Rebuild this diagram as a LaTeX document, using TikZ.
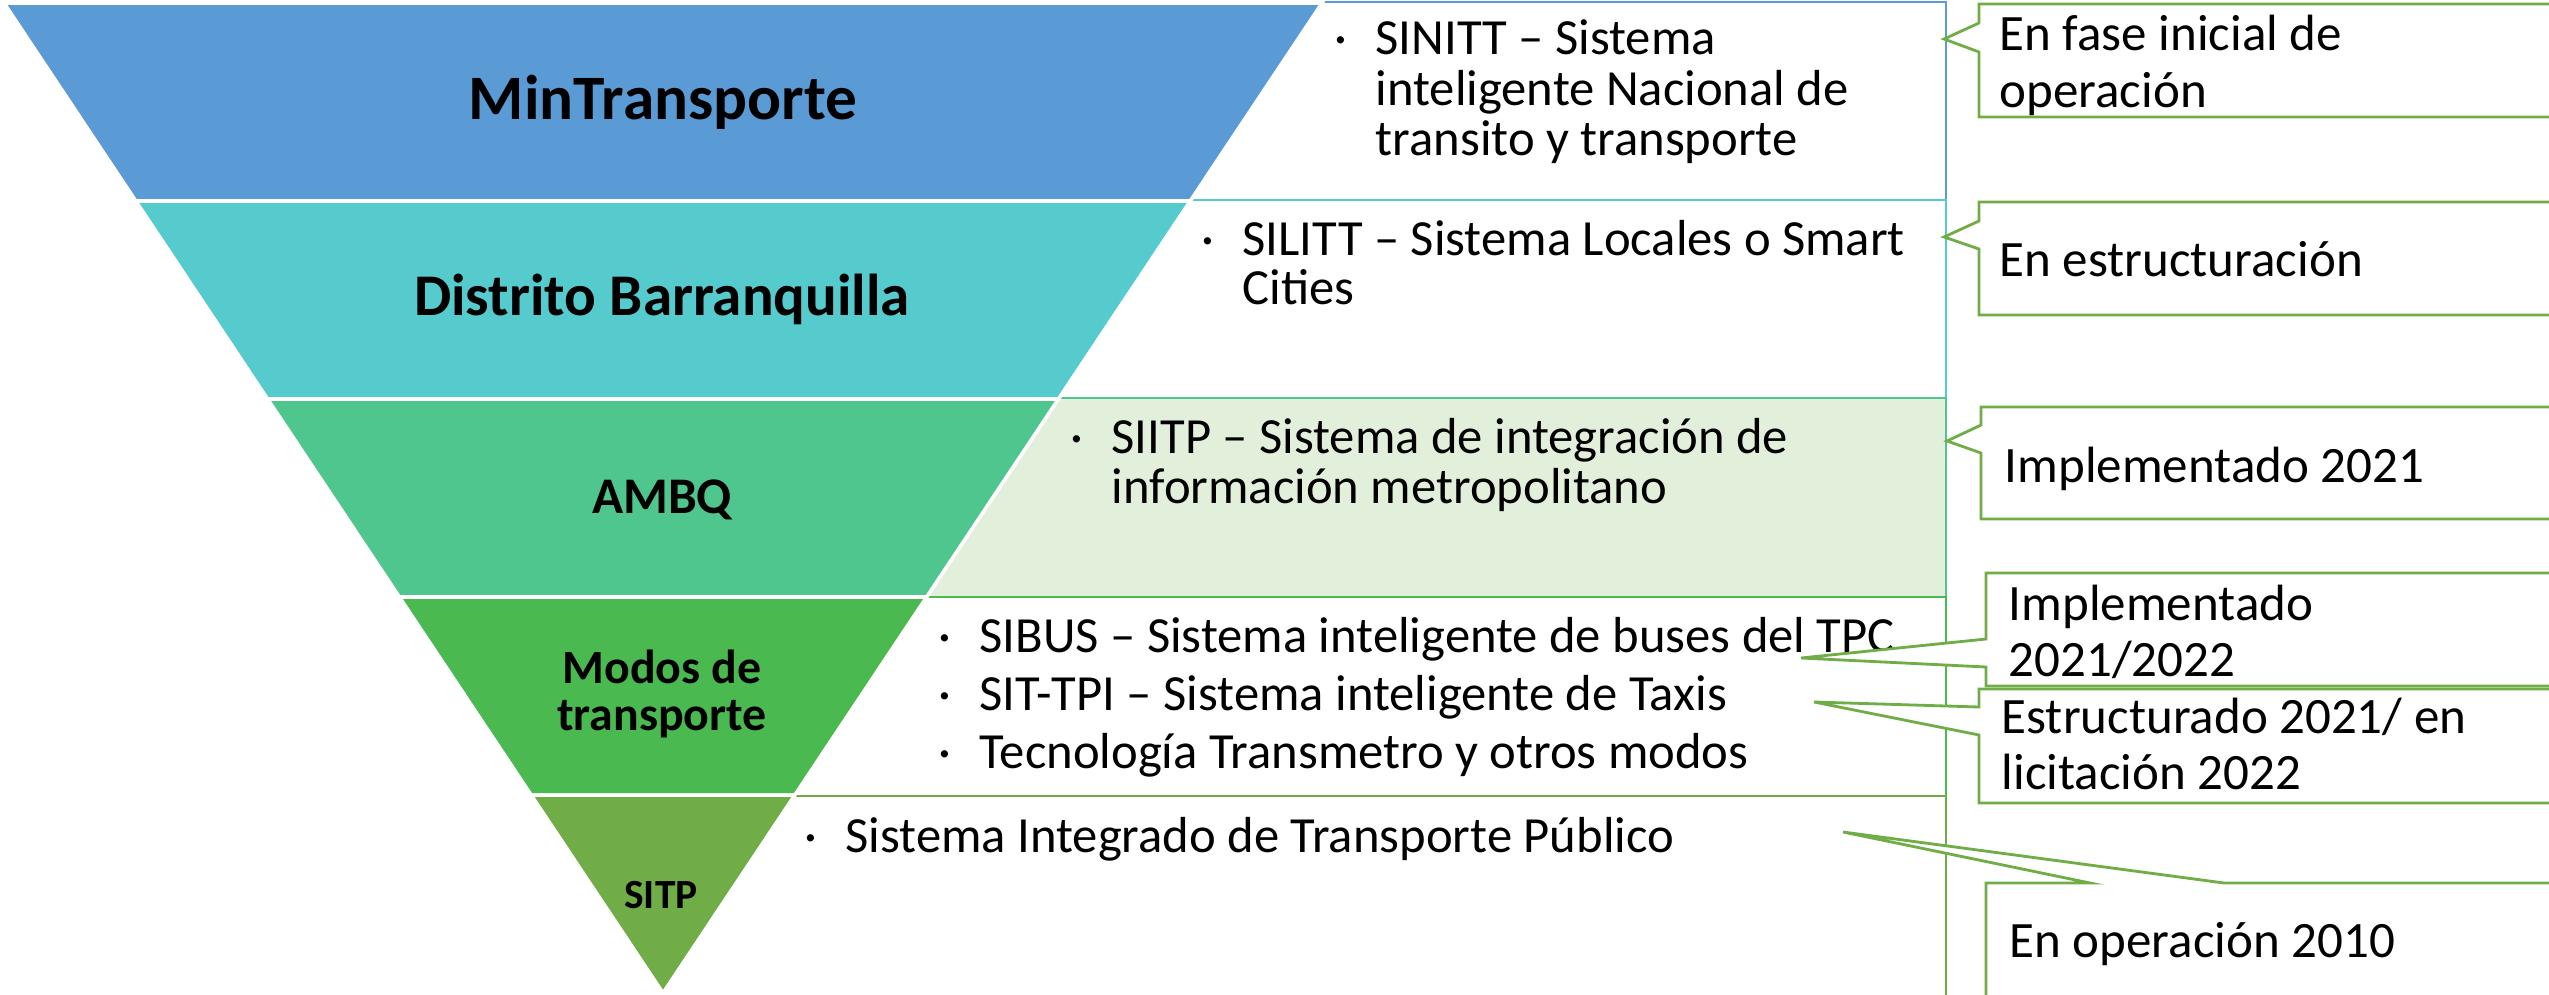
\documentclass[tikz,border=0pt]{standalone}
\usepackage{fontspec}
\setmainfont{Carlito}
\definecolor{cA}{HTML}{5B9BD5}
\definecolor{cB}{HTML}{55CBCD}
\definecolor{cC}{HTML}{4FC68E}
\definecolor{cD}{HTML}{4AB950}
\definecolor{cE}{HTML}{70AD47}
\definecolor{lightg}{HTML}{E2EFDA}
\tikzset{
  boxline/.style={line width=0.8pt, fill=white},
  band/.style={draw=white, line width=1pt, line join=miter},
  callout/.style={draw=cE, fill=white, line width=0.8pt, line join=miter},
  title/.style={font=\bfseries\fontsize{18}{20}\selectfont, anchor=base, inner sep=0pt},
  boxtxt/.style={font=\fontsize{14.4}{14.2}\selectfont, anchor=base west, inner sep=0pt},
  calltxt/.style={font=\fontsize{14.5}{16}\selectfont, anchor=base west, inner sep=0pt}
}
\newcommand{\bul}{\makebox[0.41cm][l]{·}}
\newcommand{\ind}{\hspace*{0.41cm}}
\newcommand{\ltab}[1]{\begin{tabular}[t]{@{}l@{}}#1\end{tabular}}
\newcommand{\ctab}[1]{\begin{tabular}[t]{@{}c@{}}#1\end{tabular}}
\begin{document}
\begin{tikzpicture}[x=0.01cm, y=-0.01cm]
\useasboundingbox (0,0) rectangle (2549,994);
\clip (0,0) rectangle (2549,994);
% background boxes
\draw[boxline, draw=cA] (663,2) rectangle (1946,200);
\draw[boxline, draw=cB] (663,200) rectangle (1946,398);
\draw[boxline, draw=cC, fill=lightg] (663,398) rectangle (1946,597);
\draw[boxline, draw=cD] (663,597) rectangle (1946,796);
\draw[boxline, draw=cE] (663,796) rectangle (1946,1010);
% band corners
\coordinate (l0) at (4,3);      \coordinate (r0) at (1322,3);
\coordinate (l1) at (135.8,201); \coordinate (r1) at (1190.2,201);
\coordinate (l2) at (267.6,399); \coordinate (r2) at (1058.4,399);
\coordinate (l3) at (399.4,597); \coordinate (r3) at (926.6,597);
\coordinate (l4) at (531.2,795); \coordinate (r4) at (794.8,795);
\coordinate (apex) at (663,993);
\fill[cA] (l0) -- (r0) -- (r1) -- (l1) -- cycle;
\fill[cB] (l1) -- (r1) -- (r2) -- (l2) -- cycle;
\fill[cC] (l2) -- (r2) -- (r3) -- (l3) -- cycle;
\fill[cD] (l3) -- (r3) -- (r4) -- (l4) -- cycle;
\fill[cE] (l4) -- (r4) -- (apex) -- cycle;
\draw[band] (l0) -- (r0) -- (r1) -- (l1) -- cycle;
\draw[band] (l1) -- (r1) -- (r2) -- (l2) -- cycle;
\draw[band] (l2) -- (r2) -- (r3) -- (l3) -- cycle;
\draw[band] (l3) -- (r3) -- (r4) -- (l4) -- cycle;
\draw[band] (l4) -- (r4) -- (apex) -- cycle;
% band titles
\node[title] (t1) at (663,120) {MinTransporte};
\node[title, font=\bfseries\fontsize{16.8}{20}\selectfont] (t2) at (662,315) {Distrito Barranquilla};
\node[title, font=\bfseries\fontsize{14.6}{16}\selectfont] (t3) at (662,513) {AMBQ};
\node[title, font=\bfseries\fontsize{13.6}{13.6}\selectfont] (t4) at (662,683) {\ctab{Modos de\\transporte}};
\node[title, font=\bfseries\fontsize{11.8}{14}\selectfont] (t5) at (661,908) {SITP};
% box texts
\node[boxtxt] (b1) at (1334,55) {\ltab{\bul SINITT – Sistema\\\ind inteligente Nacional de\\\ind transito y transporte}};
\node[boxtxt] (b2) at (1201,255) {\ltab{\bul SILITT – Sistema Locales o Smart\\\ind Cities}};
\node[boxtxt] (b3) at (1070,453) {\ltab{\bul SIITP – Sistema de integración de\\\ind información metropolitano}};
\node[boxtxt, font=\fontsize{14.4}{16.5}\selectfont] (b4) at (938,652) {\ltab{\bul SIBUS – Sistema inteligente de buses del TPC\\\bul SIT-TPI – Sistema inteligente de Taxis\\\bul Tecnología Transmetro y otros modos}};
\node[boxtxt] (b5) at (804,852) {\bul Sistema Integrado de Transporte Público};
% callouts
\draw[callout] (1979,4) -- (2560,4) -- (2560,117) -- (1979,117) -- (1979,52) -- (1944,39) -- (1979,23) -- cycle;
\draw[callout] (1979,202) -- (2560,202) -- (2560,315) -- (1979,315) -- (1979,249) -- (1944,237) -- (1979,221) -- cycle;
\draw[callout] (1981,407) -- (2560,407) -- (2560,519) -- (1981,519) -- (1981,453) -- (1947,441) -- (1981,425) -- cycle;
\draw[callout] (1986,573) -- (2560,573) -- (2560,686) -- (1986,686) -- (1986,667) -- (1801,658) -- (1986,639) -- cycle;
\draw[callout] (1979,689) -- (2560,689) -- (2560,803) -- (1979,803) -- (1979,735) -- (1814,702) -- (1979,707) -- cycle;
\draw[callout] (1986,883) -- (2090,883) -- (1843,832) -- (2224,883) -- (2560,883) -- (2560,1010) -- (1986,1010) -- cycle;
\node[calltxt] (c1) at (1999,51) {\ltab{En fase inicial de\\operación}};
\node[calltxt] (c2) at (1999,276) {En estructuración};
\node[calltxt] (c3) at (2004,482) {Implementado 2021};
\node[calltxt] (c4) at (2008,620) {\ltab{Implementado\\2021/2022}};
\node[calltxt] (c5) at (2001,733) {\ltab{Estructurado 2021/ en\\licitación 2022}};
\node[calltxt] (c6) at (2009,957) {En operación 2010};
\end{tikzpicture}
\end{document}
